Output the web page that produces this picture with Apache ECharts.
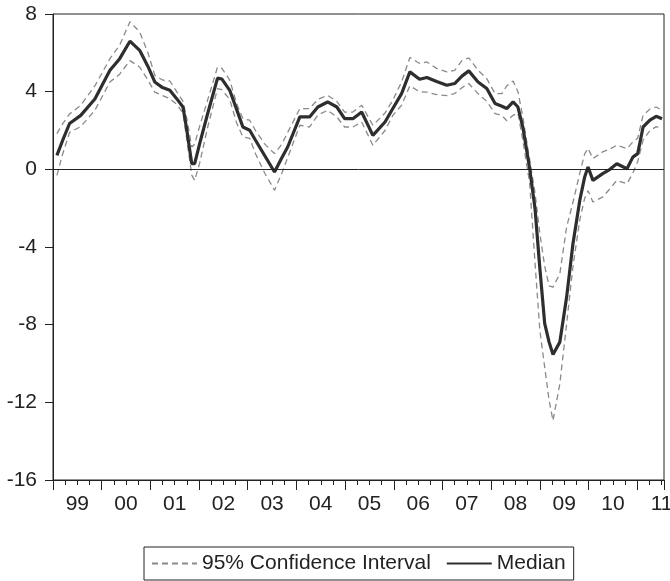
<!DOCTYPE html>
<html>
<head>
<meta charset="utf-8">
<script src="https://cdn.jsdelivr.net/npm/echarts@6/dist/echarts.min.js"></script>
<style>html,body{margin:0;padding:0;background:#fff}#c{width:670px;height:581px}</style>
</head>
<body>
<div id="c"></div>
<script>
// Time (decimal years) of each observation
const dates = [1999.08,1999.20,1999.34,1999.57,1999.86,2000.17,2000.37,2000.58,2000.78,2000.95,
  2001.09,2001.25,2001.40,2001.54,2001.67,2001.75,2001.85,2001.91,2002.01,2002.18,
  2002.38,2002.47,2002.63,2002.77,2002.90,2003.04,2003.16,2003.35,2003.55,2003.70,
  2003.82,2004.07,2004.27,2004.44,2004.64,2004.83,2004.99,2005.16,2005.34,2005.57,
  2005.82,2005.98,2006.16,2006.33,2006.53,2006.68,2006.88,2007.09,2007.25,2007.40,
  2007.54,2007.73,2007.91,2008.08,2008.22,2008.32,2008.45,2008.55,2008.65,2008.79,
  2008.90,2009.00,2009.10,2009.19,2009.27,2009.41,2009.55,2009.68,2009.82,2009.92,
  2009.99,2010.09,2010.29,2010.44,2010.58,2010.79,2010.91,2011.01,2011.12,2011.26,
  2011.39,2011.51];
const median = [0.72,1.5,2.36,2.78,3.62,5.1,5.7,6.6,6.13,5.3,
  4.5,4.21,4.07,3.64,3.21,2.0,0.29,0.29,1.3,2.9,
  4.7,4.65,4.07,3.1,2.18,2.01,1.5,0.7,-0.14,0.6,
  1.15,2.7,2.7,3.21,3.47,3.21,2.61,2.61,2.95,1.75,
  2.44,3.13,3.9,5.02,4.64,4.73,4.52,4.33,4.42,4.8,
  5.07,4.5,4.16,3.39,3.25,3.13,3.47,3.21,2.18,0.05,
  -2.0,-5.1,-7.95,-8.9,-9.54,-8.9,-6.58,-3.83,-1.6,-0.4,
  0.12,-0.57,-0.22,0.0,0.29,0.03,0.63,0.81,2.18,2.53,
  2.73,2.61];
const upper = [1.84,2.35,2.85,3.3,4.3,5.7,6.4,7.6,7.08,6.0,
  4.85,4.6,4.55,4.0,3.5,2.6,1.15,1.3,2.2,3.6,
  5.27,5.2,4.6,3.4,2.61,2.53,2.0,1.3,0.81,1.3,
  1.9,3.13,3.13,3.6,3.81,3.5,2.95,2.95,3.3,2.27,
  2.9,3.56,4.5,5.76,5.45,5.53,5.2,5.02,5.1,5.6,
  5.74,5.1,4.67,3.9,3.9,4.3,4.55,4.0,2.7,0.5,
  -1.2,-3.3,-5.0,-6.0,-6.07,-5.38,-2.97,-1.7,-0.2,0.8,
  1.07,0.55,0.9,1.05,1.24,1.07,1.41,1.6,2.78,3.1,
  3.21,3.04];
const lower = [-0.31,0.8,1.9,2.2,3.04,4.5,4.9,5.6,5.27,4.6,
  3.98,3.8,3.64,3.35,2.9,1.5,-0.3,-0.57,0.3,2.2,
  4.16,4.1,3.6,2.4,1.67,1.6,0.8,-0.2,-1.08,-0.2,
  0.6,2.27,2.18,2.8,3.04,2.7,2.18,2.18,2.44,1.24,
  2.0,2.78,3.3,4.3,4.0,3.98,3.85,3.8,3.9,4.2,
  4.42,3.9,3.5,2.87,2.78,2.5,2.78,2.9,1.5,-0.7,
  -4.8,-8.3,-10.2,-11.9,-12.94,-11.05,-7.95,-5.0,-2.6,-1.5,
  -1.1,-1.68,-1.43,-1.0,-0.57,-0.74,-0.2,0.4,1.5,2.0,
  2.2,2.1];
const yearLabels = ['99','00','01','02','03','04','05','06','07','08','09','10','11'];
const yTicks = [-16,-12,-8,-4,0,4,8];
const xStart = 1999, xEnd = 2011.55;

const FONT = '"Liberation Sans", Arial, sans-serif';
const TXT = '#222';
const pairs = arr => arr.map((v, i) => [dates[i], v]);

const chart = echarts.init(document.getElementById('c'), null, {renderer: 'canvas'});
chart.setOption({
  animation: false,
  backgroundColor: '#fff',
  textStyle: {fontFamily: FONT},
  grid: {left: 53, right: 6, top: 14, bottom: 101, show: true, borderColor: '#222', borderWidth: 1,
         outerBoundsMode: 'none', containLabel: false},
  legend: {
    left: 144, top: 547,
    data: ['95% Confidence Interval', 'Median'],
    borderColor: '#222', borderWidth: 1, borderRadius: 0,
    padding: [6, 8, 6, 7],
    itemWidth: 45, itemHeight: 14, itemGap: 15,
    itemStyle: {opacity: 0, borderWidth: 0},
    textStyle: {fontFamily: FONT, fontSize: 21, color: TXT},
    selectedMode: false
  },
  xAxis: [
    { // major (year) ticks
      type: 'value', position: 'bottom', min: xStart, max: xEnd, interval: 1,
      axisLine: {show: true, onZero: false, lineStyle: {color: '#222', width: 1}},
      axisTick: {show: true, length: 10, inside: false, lineStyle: {color: '#222'}},
      axisLabel: {show: false}, splitLine: {show: false}
    },
    { // quarterly ticks
      type: 'value', position: 'bottom', min: xStart, max: xEnd, interval: 0.25,
      axisLine: {show: false, onZero: false},
      axisTick: {show: true, length: 5, inside: false, lineStyle: {color: '#222'}},
      axisLabel: {show: false}, splitLine: {show: false}
    },
    { // year labels centred in each year
      type: 'value', position: 'bottom', min: xStart, max: xEnd, interval: 0.5,
      axisLine: {show: false, onZero: false}, axisTick: {show: false}, splitLine: {show: false},
      axisLabel: {
        show: true, margin: 14, fontSize: 21, color: TXT, fontFamily: FONT,
        showMinLabel: true, showMaxLabel: true, hideOverlap: false,
        formatter: v => {
          const f = v - Math.floor(v);
          if (Math.abs(f - 0.5) < 1e-6) {
            const idx = Math.floor(v) - 1999;
            return yearLabels[idx] || '';
          }
          return '';
        }
      }
    }
  ],
  yAxis: {
    type: 'value', min: yTicks[0], max: yTicks[yTicks.length - 1], interval: 4,
    axisLine: {show: true, onZero: false, lineStyle: {color: '#222', width: 1}},
    axisTick: {show: true, length: 8, inside: false, lineStyle: {color: '#222'}},
    axisLabel: {margin: 16, fontSize: 21, color: TXT, fontFamily: FONT},
    splitLine: {show: false}
  },
  series: [
    {
      name: '95% Confidence Interval', type: 'line', xAxisIndex: 0, data: pairs(upper),
      symbol: 'none', smooth: false,
      lineStyle: {color: '#8a8a8a', width: 1.3, type: [6, 4]},
      itemStyle: {color: '#8a8a8a'},
      markLine: {
        silent: true, symbol: ['none', 'none'], label: {show: false},
        lineStyle: {color: '#222', width: 1, type: 'solid'},
        data: [{yAxis: 0}]
      }
    },
    {
      name: '95% Confidence Interval', type: 'line', xAxisIndex: 0, data: pairs(lower),
      symbol: 'none', smooth: false,
      lineStyle: {color: '#8a8a8a', width: 1.3, type: [6, 4]},
      itemStyle: {color: '#8a8a8a'}
    },
    {
      name: 'Median', type: 'line', xAxisIndex: 0, data: pairs(median),
      symbol: 'none', smooth: false,
      lineStyle: {color: '#2e2e2e', width: 3.2},
      itemStyle: {color: '#2e2e2e'}
    }
  ]
});
</script>
</body>
</html>
